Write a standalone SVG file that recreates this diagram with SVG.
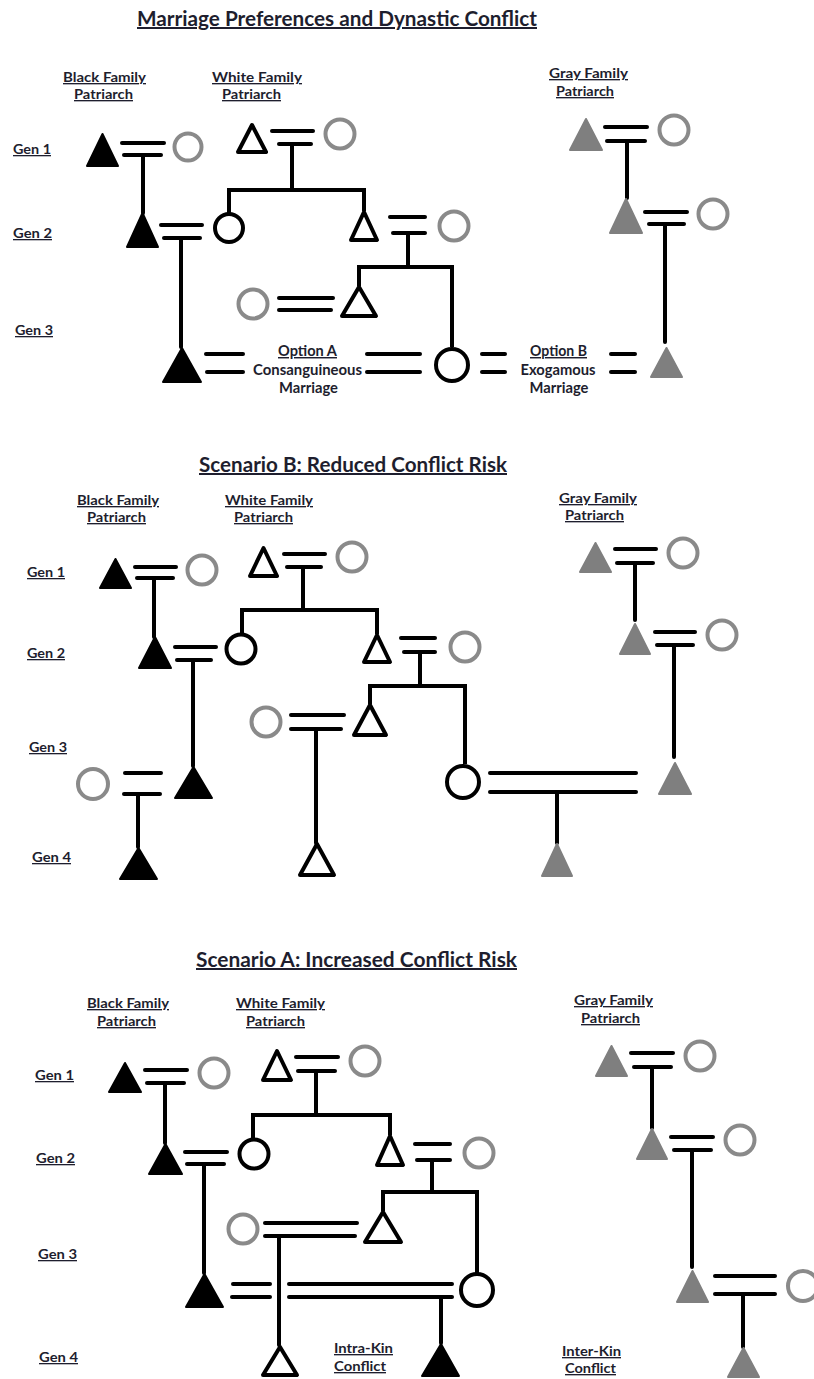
<svg xmlns="http://www.w3.org/2000/svg" width="814" height="1379" viewBox="0 0 814 1379">
<style>
.ln{stroke:#000;stroke-width:4;stroke-linecap:round;fill:none}
.pl{stroke:#000;stroke-width:4;stroke-linecap:butt;stroke-linejoin:miter;fill:none}
.tb{fill:#000;stroke:#000;stroke-width:2;stroke-linejoin:round}
.tw{fill:#fff;stroke:#000;stroke-width:4;stroke-linejoin:round}
.tg{fill:#7f7f7f;stroke:#7f7f7f;stroke-width:2;stroke-linejoin:round}
.cg{fill:#fff;stroke:#8a8a8a;stroke-width:4}
.cb{fill:#fff;stroke:#000;stroke-width:4}
text{font-family:Lato,"Open Sans","Liberation Sans",sans-serif;font-weight:bold;fill:#1e1e2e}
.t{font-size:20px;text-decoration:underline;text-anchor:middle}
.l{font-size:13.5px;text-decoration:underline;text-anchor:middle}
.g{font-size:13px;text-decoration:underline}
.o{font-size:14.5px;text-anchor:middle}
.ou{font-size:14.5px;text-anchor:middle;text-decoration:underline}
.k{font-size:13.5px;text-decoration:underline}
</style>
<rect width="814" height="1379" fill="#fff"/>

<!-- ============ SECTION 1 ============ -->
<g id="s1-labels">
<text class="t" x="337" y="26" textLength="400" lengthAdjust="spacingAndGlyphs">Marriage Preferences and Dynastic Conflict</text>
<text class="l" x="104.5" y="82" textLength="83" lengthAdjust="spacingAndGlyphs">Black Family</text>
<text class="l" x="103.5" y="99" textLength="59" lengthAdjust="spacingAndGlyphs">Patriarch</text>
<text class="l" x="257" y="82" textLength="90" lengthAdjust="spacingAndGlyphs">White Family</text>
<text class="l" x="251.5" y="99" textLength="59" lengthAdjust="spacingAndGlyphs">Patriarch</text>
<text class="l" x="588.5" y="78" textLength="79" lengthAdjust="spacingAndGlyphs">Gray Family</text>
<text class="l" x="585" y="96" textLength="58" lengthAdjust="spacingAndGlyphs">Patriarch</text>
<text class="g" x="13" y="154" textLength="38" lengthAdjust="spacingAndGlyphs">Gen 1</text>
<text class="g" x="13" y="238" textLength="39" lengthAdjust="spacingAndGlyphs">Gen 2</text>
<text class="g" x="15" y="335" textLength="38" lengthAdjust="spacingAndGlyphs">Gen 3</text>
<text class="ou" x="307.5" y="356" textLength="59" lengthAdjust="spacingAndGlyphs">Option A</text>
<text class="o" x="307.5" y="375" textLength="109" lengthAdjust="spacingAndGlyphs">Consanguineous</text>
<text class="o" x="308.5" y="393" textLength="59" lengthAdjust="spacingAndGlyphs">Marriage</text>
<text class="ou" x="558.5" y="356" textLength="57" lengthAdjust="spacingAndGlyphs">Option B</text>
<text class="o" x="558" y="375" textLength="75" lengthAdjust="spacingAndGlyphs">Exogamous</text>
<text class="o" x="559" y="393" textLength="59" lengthAdjust="spacingAndGlyphs">Marriage</text>
</g>

<g id="s1-connectors">
<line class="ln" x1="122" y1="143" x2="164" y2="143"/><line class="ln" x1="124" y1="155" x2="161" y2="155"/>
<line class="ln" x1="143" y1="155" x2="143" y2="213"/>
<line class="ln" x1="161" y1="225" x2="202" y2="225"/><line class="ln" x1="164" y1="238" x2="200" y2="238"/>
<line class="ln" x1="181" y1="238" x2="181" y2="347"/>
<line class="ln" x1="206" y1="354" x2="243" y2="354"/><line class="ln" x1="207" y1="372" x2="243" y2="372"/>
<line class="ln" x1="367" y1="354" x2="420" y2="354"/><line class="ln" x1="367" y1="372" x2="420" y2="372"/>
<line class="ln" x1="482" y1="354" x2="505" y2="354"/><line class="ln" x1="482" y1="372" x2="505" y2="372"/>
<line class="ln" x1="611" y1="354" x2="635" y2="354"/><line class="ln" x1="611" y1="372" x2="635" y2="372"/>
<line class="ln" x1="272" y1="131" x2="313" y2="131"/><line class="ln" x1="279" y1="144" x2="311" y2="144"/>
<line class="ln" x1="292" y1="144" x2="292" y2="190"/>
<path class="pl" d="M229,213 V190 H364 V211"/>
<line class="ln" x1="390" y1="217" x2="425" y2="217"/><line class="ln" x1="393" y1="233" x2="425" y2="233"/>
<line class="ln" x1="408" y1="233" x2="408" y2="267"/>
<path class="pl" d="M359,286 V267 H452 V347"/>
<line class="ln" x1="279" y1="298" x2="333" y2="298"/><line class="ln" x1="279" y1="310" x2="331" y2="310"/>
<line class="ln" x1="605" y1="127" x2="647" y2="127"/><line class="ln" x1="607" y1="141" x2="645" y2="141"/>
<line class="ln" x1="627" y1="141" x2="627" y2="198"/>
<line class="ln" x1="645" y1="212" x2="687" y2="212"/><line class="ln" x1="649" y1="224" x2="684" y2="224"/>
<line class="ln" x1="665" y1="224" x2="665" y2="342"/>
</g>

<g id="s1-black-g1"><polygon class="tb" points="102.5,134 118,166 87,166"/></g>
<g id="s1-black-g1-wife"><circle class="cg" cx="188" cy="147" r="13.5"/></g>
<g id="s1-black-g2"><polygon class="tb" points="142.5,213 158,247 127,247"/></g>
<g id="s1-white-g2-daughter"><circle class="cb" cx="229" cy="228" r="14"/></g>
<g id="s1-black-g3"><polygon class="tb" points="182,348 201,382 163,382"/></g>
<g id="s1-white-g1"><polygon class="tw" points="252,125 266,152 238,152"/></g>
<g id="s1-white-g1-wife"><circle class="cg" cx="340" cy="134" r="14.5"/></g>
<g id="s1-white-g2"><polygon class="tw" points="364,212 377,240 351,240"/></g>
<g id="s1-white-g2-wife"><circle class="cg" cx="454" cy="226" r="14.5"/></g>
<g id="s1-white-g3-daughter"><circle class="cb" cx="452" cy="365" r="16"/></g>
<g id="s1-white-g3"><polygon class="tw" points="359,287 376,316 342,316"/></g>
<g id="s1-white-g3-wife"><circle class="cg" cx="253" cy="304" r="14.5"/></g>
<g id="s1-gray-g1"><polygon class="tg" points="586,119 602,150 570,150"/></g>
<g id="s1-gray-g1-wife"><circle class="cg" cx="674" cy="130" r="14.5"/></g>
<g id="s1-gray-g2"><polygon class="tg" points="626,199 642,233 610,233"/></g>
<g id="s1-gray-g2-wife"><circle class="cg" cx="713" cy="214" r="14.5"/></g>
<g id="s1-gray-g3"><polygon class="tg" points="666.5,348 682,377 651,377"/></g>

<!-- ============ SECTION 2 ============ -->
<g id="s2-labels">
<text class="t" x="353" y="472" textLength="308" lengthAdjust="spacingAndGlyphs">Scenario B: Reduced Conflict Risk</text>
<text class="l" x="118" y="505" textLength="82" lengthAdjust="spacingAndGlyphs">Black Family</text>
<text class="l" x="116.5" y="522" textLength="59" lengthAdjust="spacingAndGlyphs">Patriarch</text>
<text class="l" x="269" y="505" textLength="88" lengthAdjust="spacingAndGlyphs">White Family</text>
<text class="l" x="263.5" y="522" textLength="59" lengthAdjust="spacingAndGlyphs">Patriarch</text>
<text class="l" x="598" y="503" textLength="78" lengthAdjust="spacingAndGlyphs">Gray Family</text>
<text class="l" x="594.5" y="520" textLength="59" lengthAdjust="spacingAndGlyphs">Patriarch</text>
<text class="g" x="27" y="577" textLength="38" lengthAdjust="spacingAndGlyphs">Gen 1</text>
<text class="g" x="27" y="658" textLength="38" lengthAdjust="spacingAndGlyphs">Gen 2</text>
<text class="g" x="29" y="752" textLength="38" lengthAdjust="spacingAndGlyphs">Gen 3</text>
<text class="g" x="32" y="862" textLength="39" lengthAdjust="spacingAndGlyphs">Gen 4</text>
</g>

<g id="s2-connectors">
<line class="ln" x1="135" y1="567" x2="176" y2="567"/><line class="ln" x1="137" y1="578" x2="173" y2="578"/>
<line class="ln" x1="154" y1="578" x2="154" y2="637"/>
<line class="ln" x1="175" y1="647" x2="216" y2="647"/><line class="ln" x1="177" y1="660" x2="211" y2="660"/>
<line class="ln" x1="193" y1="660" x2="193" y2="766"/>
<line class="ln" x1="125" y1="773" x2="161" y2="773"/><line class="ln" x1="124" y1="794" x2="160" y2="794"/>
<line class="ln" x1="138" y1="794" x2="138" y2="847"/>
<line class="ln" x1="284" y1="554" x2="325" y2="554"/><line class="ln" x1="287" y1="567" x2="321" y2="567"/>
<line class="ln" x1="303" y1="567" x2="303" y2="610"/>
<path class="pl" d="M242,634 V610 H377 V634"/>
<line class="ln" x1="401" y1="638" x2="435" y2="638"/><line class="ln" x1="404" y1="652" x2="435" y2="652"/>
<line class="ln" x1="420" y1="652" x2="420" y2="686"/>
<path class="pl" d="M370,704 V686 H465 V764"/>
<line class="ln" x1="291" y1="715" x2="344" y2="715"/><line class="ln" x1="291" y1="729" x2="341" y2="729"/>
<line class="ln" x1="316" y1="729" x2="316" y2="843"/>
<line class="ln" x1="490" y1="773" x2="636" y2="773"/><line class="ln" x1="490" y1="792" x2="636" y2="792"/>
<line class="ln" x1="557" y1="792" x2="557" y2="843"/>
<line class="ln" x1="615" y1="549" x2="656" y2="549"/><line class="ln" x1="617" y1="563" x2="653" y2="563"/>
<line class="ln" x1="635" y1="563" x2="635" y2="620"/>
<line class="ln" x1="655" y1="632" x2="695" y2="632"/><line class="ln" x1="657" y1="645" x2="693" y2="645"/>
<line class="ln" x1="674" y1="645" x2="674" y2="757"/>
</g>

<g id="s2-black-g1"><polygon class="tb" points="115.5,559 131,588 100,588"/></g>
<g id="s2-black-g1-wife"><circle class="cg" cx="202" cy="570" r="14.5"/></g>
<g id="s2-black-g2"><polygon class="tb" points="155,637 171,668 139,668"/></g>
<g id="s2-white-g2-daughter"><circle class="cb" cx="241" cy="649" r="14.5"/></g>
<g id="s2-black-g3"><polygon class="tb" points="193.5,767 212,798 175,798"/></g>
<g id="s2-black-g3-wife"><circle class="cg" cx="93" cy="784" r="15"/></g>
<g id="s2-black-g4"><polygon class="tb" points="138.5,848 157,879 120,879"/></g>
<g id="s2-white-g1"><polygon class="tw" points="263.5,548 277,576 250,576"/></g>
<g id="s2-white-g1-wife"><circle class="cg" cx="352" cy="557" r="14.5"/></g>
<g id="s2-white-g2"><polygon class="tw" points="377,635 390,662 364,662"/></g>
<g id="s2-white-g2-wife"><circle class="cg" cx="465" cy="647" r="14.5"/></g>
<g id="s2-white-g3"><polygon class="tw" points="370,705 386,735 354,735"/></g>
<g id="s2-white-g3-wife"><circle class="cg" cx="266" cy="722" r="14.5"/></g>
<g id="s2-white-g4"><polygon class="tw" points="317,844 334,875 300,875"/></g>
<g id="s2-white-g3-daughter"><circle class="cb" cx="463" cy="782" r="16"/></g>
<g id="s2-gray-g1"><polygon class="tg" points="595.5,543 611,572 580,572"/></g>
<g id="s2-gray-g1-wife"><circle class="cg" cx="683" cy="553" r="14.5"/></g>
<g id="s2-gray-g2"><polygon class="tg" points="635,624 650,654 620,654"/></g>
<g id="s2-gray-g2-wife"><circle class="cg" cx="722" cy="635" r="14.5"/></g>
<g id="s2-gray-g3"><polygon class="tg" points="675,763 691,794 659,794"/></g>
<g id="s2-gray-g4"><polygon class="tg" points="557,844 572,876 542,876"/></g>

<!-- ============ SECTION 3 ============ -->
<g id="s3-labels">
<text class="t" x="356.5" y="967" textLength="321" lengthAdjust="spacingAndGlyphs">Scenario A: Increased Conflict Risk</text>
<text class="l" x="128" y="1008" textLength="82" lengthAdjust="spacingAndGlyphs">Black Family</text>
<text class="l" x="126.5" y="1026" textLength="59" lengthAdjust="spacingAndGlyphs">Patriarch</text>
<text class="l" x="280.5" y="1008" textLength="89" lengthAdjust="spacingAndGlyphs">White Family</text>
<text class="l" x="275.5" y="1026" textLength="59" lengthAdjust="spacingAndGlyphs">Patriarch</text>
<text class="l" x="613.5" y="1005" textLength="79" lengthAdjust="spacingAndGlyphs">Gray Family</text>
<text class="l" x="610.5" y="1023" textLength="59" lengthAdjust="spacingAndGlyphs">Patriarch</text>
<text class="g" x="35" y="1080" textLength="39" lengthAdjust="spacingAndGlyphs">Gen 1</text>
<text class="g" x="36" y="1163" textLength="39" lengthAdjust="spacingAndGlyphs">Gen 2</text>
<text class="g" x="38" y="1259" textLength="39" lengthAdjust="spacingAndGlyphs">Gen 3</text>
<text class="g" x="39" y="1362" textLength="39" lengthAdjust="spacingAndGlyphs">Gen 4</text>
<text class="k" x="334" y="1353" textLength="59" lengthAdjust="spacingAndGlyphs">Intra-Kin</text>
<text class="k" x="334" y="1371" textLength="52" lengthAdjust="spacingAndGlyphs">Conflict</text>
<text class="k" x="562" y="1356" textLength="59" lengthAdjust="spacingAndGlyphs">Inter-Kin</text>
<text class="k" x="565" y="1373" textLength="51" lengthAdjust="spacingAndGlyphs">Conflict</text>
</g>

<g id="s3-connectors">
<line class="ln" x1="145" y1="1070" x2="187" y2="1070"/><line class="ln" x1="147" y1="1083" x2="184" y2="1083"/>
<line class="ln" x1="165" y1="1083" x2="165" y2="1143"/>
<line class="ln" x1="185" y1="1152" x2="227" y2="1152"/><line class="ln" x1="187" y1="1164" x2="224" y2="1164"/>
<line class="ln" x1="204" y1="1164" x2="204" y2="1273"/>
<line class="ln" x1="233" y1="1284" x2="270" y2="1284"/><line class="ln" x1="232" y1="1297" x2="270" y2="1297"/>
<line class="ln" x1="289" y1="1284" x2="452" y2="1284"/><line class="ln" x1="289" y1="1297" x2="452" y2="1297"/>
<line class="ln" x1="441" y1="1297" x2="441" y2="1343"/>
<line class="ln" x1="296" y1="1057" x2="338" y2="1057"/><line class="ln" x1="298" y1="1071" x2="335" y2="1071"/>
<line class="ln" x1="316" y1="1071" x2="316" y2="1115"/>
<path class="pl" d="M253,1138 V1115 H390 V1135"/>
<line class="ln" x1="415" y1="1144" x2="450" y2="1144"/><line class="ln" x1="417" y1="1160" x2="450" y2="1160"/>
<line class="ln" x1="432" y1="1160" x2="432" y2="1192"/>
<path class="pl" d="M383,1211 V1192 H477 V1273"/>
<line class="ln" x1="265" y1="1223" x2="357" y2="1223"/><line class="ln" x1="265" y1="1236" x2="355" y2="1236"/>
<line class="ln" x1="279" y1="1236" x2="279" y2="1345"/>
<line class="ln" x1="631" y1="1053" x2="673" y2="1053"/><line class="ln" x1="634" y1="1067" x2="671" y2="1067"/>
<line class="ln" x1="652" y1="1067" x2="652" y2="1128"/>
<line class="ln" x1="671" y1="1137" x2="713" y2="1137"/><line class="ln" x1="674" y1="1150" x2="711" y2="1150"/>
<line class="ln" x1="692" y1="1150" x2="692" y2="1267"/>
<line class="ln" x1="715" y1="1276" x2="775" y2="1276"/><line class="ln" x1="715" y1="1294" x2="775" y2="1294"/>
<line class="ln" x1="743" y1="1294" x2="743" y2="1347"/>
</g>

<g id="s3-black-g1"><polygon class="tb" points="125,1063 141,1092 109,1092"/></g>
<g id="s3-black-g1-wife"><circle class="cg" cx="214" cy="1073" r="14.5"/></g>
<g id="s3-black-g2"><polygon class="tb" points="165.5,1144 182,1174 149,1174"/></g>
<g id="s3-white-g2-daughter"><circle class="cb" cx="254" cy="1154" r="14.5"/></g>
<g id="s3-black-g3"><polygon class="tb" points="204.5,1274 223,1307 186,1307"/></g>
<g id="s3-white-g3-daughter"><circle class="cb" cx="477" cy="1290" r="16"/></g>
<g id="s3-black-g4"><polygon class="tb" points="441,1344 459,1376 422,1376"/></g>
<g id="s3-white-g1"><polygon class="tw" points="277,1051 291,1080 263,1080"/></g>
<g id="s3-white-g1-wife"><circle class="cg" cx="365" cy="1061" r="14.5"/></g>
<g id="s3-white-g2"><polygon class="tw" points="390,1136 403,1165 377,1165"/></g>
<g id="s3-white-g2-wife"><circle class="cg" cx="479" cy="1153" r="14.5"/></g>
<g id="s3-white-g3"><polygon class="tw" points="383,1212 401,1242 365,1242"/></g>
<g id="s3-white-g3-wife"><circle class="cg" cx="243" cy="1229" r="14.5"/></g>
<g id="s3-white-g4"><polygon class="tw" points="280,1347 297,1375 263,1375"/></g>
<g id="s3-gray-g1"><polygon class="tg" points="611.5,1046 627,1076 596,1076"/></g>
<g id="s3-gray-g1-wife"><circle class="cg" cx="700" cy="1056" r="14.5"/></g>
<g id="s3-gray-g2"><polygon class="tg" points="652,1129 667,1159 637,1159"/></g>
<g id="s3-gray-g2-wife"><circle class="cg" cx="740" cy="1140" r="14.5"/></g>
<g id="s3-gray-g3"><polygon class="tg" points="692.5,1271 708,1302 677,1302"/></g>
<g id="s3-gray-g3-wife"><circle class="cg" cx="803" cy="1286" r="15"/></g>
<g id="s3-gray-g4"><polygon class="tg" points="743.5,1348 759,1377 728,1377"/></g>
</svg>
